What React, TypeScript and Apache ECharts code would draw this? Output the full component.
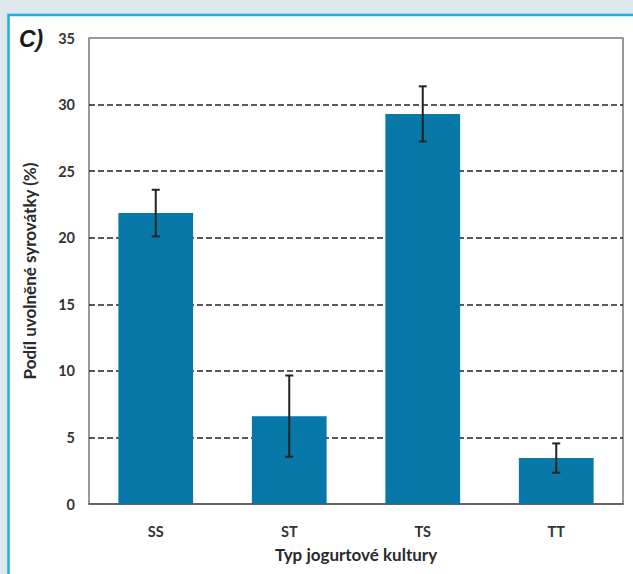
import React, { useEffect, useRef } from "react";
import * as echarts from "echarts";

const categories = ["SS", "ST", "TS", "TT"];
const means = [21.85, 6.6, 29.3, 3.45];
const errors = [1.75, 3.05, 2.07, 1.1];
const yTicks = { min: 0, max: 35, interval: 5 };

export default function App() {
  const ref = useRef<HTMLDivElement>(null);
  useEffect(() => {
    const chart = echarts.init(ref.current!, null, { renderer: "svg" });
    const errData = categories.map((c, i) => [i, means[i] - errors[i], means[i] + errors[i]]);
    chart.setOption({
      animation: false,
      backgroundColor: "#dde8ef",
      textStyle: { fontFamily: "Lato, 'Open Sans', sans-serif" },
      graphic: [
        {
          type: "rect",
          z: -10,
          silent: true,
          shape: { x: 8.5, y: 15, width: 700, height: 600 },
          style: { fill: "#ffffff", stroke: "#18aee9", lineWidth: 2.5 },
        },
        {
          type: "text",
          left: 19,
          top: 27,
          style: {
            text: "C)",
            font: "italic bold 23px 'Liberation Sans', Arial, sans-serif",
            fill: "#1a1a1a",
          },
        },
      ],
      grid: {
        left: 89,
        top: 38,
        right: 10,
        bottom: 70,
        show: true,
        borderColor: "#7a7a7a",
        borderWidth: 1.5,
        backgroundColor: "transparent",
      },
      xAxis: {
        type: "category",
        data: categories,
        name: "Typ jogurtové kultury",
        nameLocation: "middle",
        nameGap: 42,
        nameTextStyle: { fontSize: 17, fontWeight: "bold", color: "#2a2a2a" },
        axisTick: { show: false },
        axisLine: { show: true, lineStyle: { color: "#555", width: 1.5 } },
        axisLabel: { fontSize: 14.5, fontWeight: "bold", color: "#333", margin: 20 },
      },
      yAxis: {
        type: "value",
        min: yTicks.min,
        max: yTicks.max,
        interval: yTicks.interval,
        name: "Podíl uvolněné syrovátky (%)",
        nameLocation: "middle",
        nameGap: 51,
        nameTextStyle: { fontSize: 17, fontWeight: "bold", color: "#2a2a2a" },
        axisLine: { show: false },
        axisTick: { show: false },
        axisLabel: { fontSize: 14.5, fontWeight: "bold", color: "#333", margin: 14 },
        splitLine: {
          show: true,
          showMinLine: false,
          showMaxLine: false,
          lineStyle: { color: "#222", type: [6, 3], width: 1.5 },
        },
      },
      series: [
        {
          type: "bar",
          data: means,
          barWidth: "56%",
          itemStyle: { color: "#0878a8" },
          z: 2,
        },
        {
          type: "custom",
          z: 5,
          data: errData,
          renderItem: (params: any, api: any) => {
            const x = api.coord([api.value(0), 0])[0];
            const lo = api.coord([api.value(0), api.value(1)])[1];
            const hi = api.coord([api.value(0), api.value(2)])[1];
            const hw = 4;
            const style = { stroke: "#222", lineWidth: 2 };
            return {
              type: "group",
              children: [
                { type: "line", shape: { x1: x, y1: lo, x2: x, y2: hi }, style },
                { type: "line", shape: { x1: x - hw, y1: hi, x2: x + hw, y2: hi }, style },
                { type: "line", shape: { x1: x - hw, y1: lo, x2: x + hw, y2: lo }, style },
              ],
            };
          },
        },
      ],
    });
    return () => chart.dispose();
  }, []);
  return (
    <div
      ref={ref}
      style={{ position: "absolute", left: 0, top: 0, width: 633, height: 574 }}
    />
  );
}
